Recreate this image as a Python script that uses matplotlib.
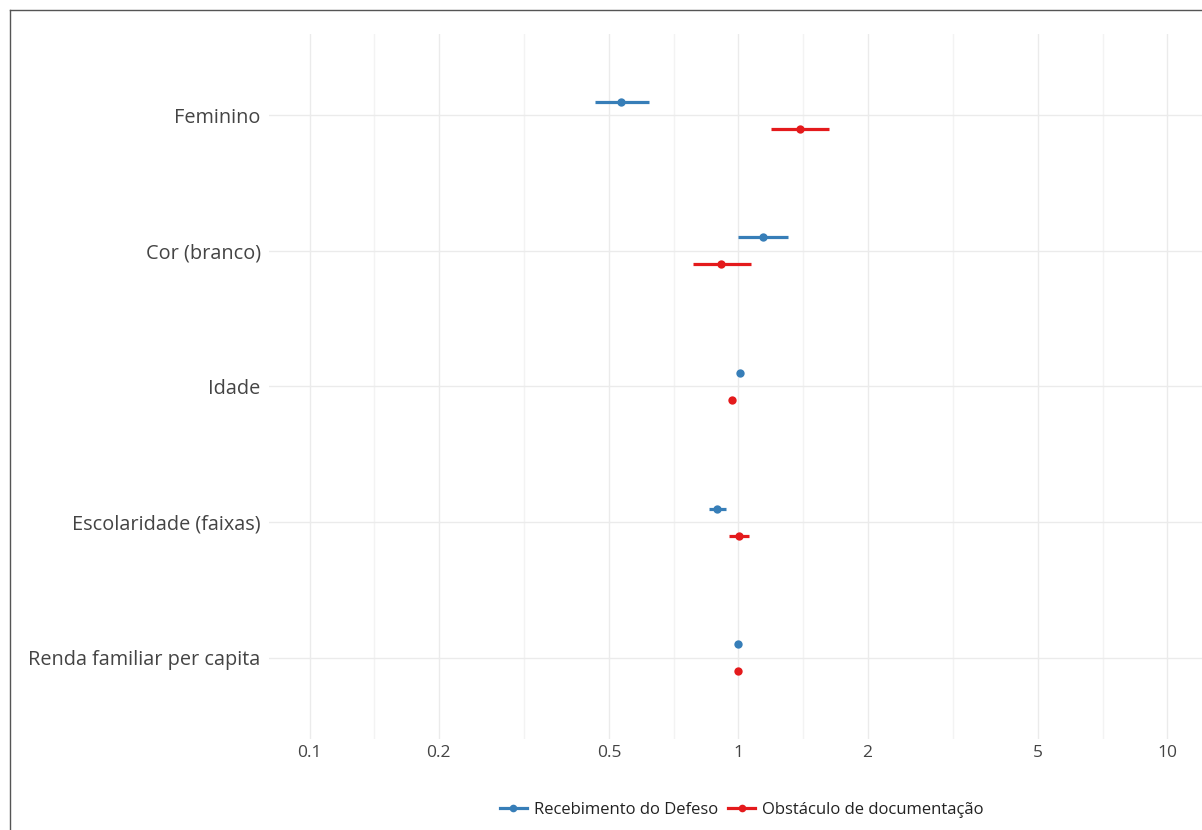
import matplotlib.pyplot as plt
import matplotlib.ticker as mticker
from matplotlib.lines import Line2D
import numpy as np

plt.rcParams['font.family'] = ['Open Sans', 'DejaVu Sans']

variables = ["Feminino", "Cor (branco)", "Idade", "Escolaridade (faixas)",
             "Renda familiar per capita"]

# odds ratios with 95% CI
defeso_or = [0.532, 1.138, 1.011, 0.893, 1.000]
defeso_lo = [0.463, 1.000, 1.005, 0.855, 0.998]
defeso_hi = [0.619, 1.302, 1.017, 0.937, 1.002]

doc_or = [1.389, 0.912, 0.968, 1.005, 1.000]
doc_lo = [1.188, 0.785, 0.962, 0.953, 0.998]
doc_hi = [1.624, 1.067, 0.974, 1.061, 1.002]

blue = "#377EB8"
red = "#E41A1C"

fig = plt.figure(figsize=(12.02, 8.30), dpi=100)
ax = fig.add_axes([269 / 1202, 1 - 739 / 830, 933 / 1202, 705 / 830])

ypos = np.arange(len(variables))[::-1] + 1.0
off = 0.1

for vals, lo, hi, color, d in [(defeso_or, defeso_lo, defeso_hi, blue, off),
                               (doc_or, doc_lo, doc_hi, red, -off)]:
    y = ypos + d
    ax.hlines(y, lo, hi, color=color, lw=2.3, zorder=3)
    ax.plot(vals, y, "o", color=color, ms=6, zorder=4, mec="none")

ax.set_xscale("log")
ax.set_xlim(0.0804, 12.05)
ax.set_ylim(0.4, 5.6)

major = [0.1, 0.2, 0.5, 1, 2, 5, 10]
minor = [0.1414, 0.3162, 0.7071, 1.414, 3.162, 7.071]
ax.xaxis.set_major_locator(mticker.FixedLocator(major))
ax.xaxis.set_major_formatter(mticker.FixedFormatter(["0.1", "0.2", "0.5", "1", "2", "5", "10"]))
ax.xaxis.set_minor_locator(mticker.FixedLocator(minor))
ax.xaxis.set_minor_formatter(mticker.NullFormatter())

ax.set_yticks(ypos)
ax.set_yticklabels(variables)

ax.grid(True, which="major", axis="both", color="#ebebeb", lw=1)
ax.grid(True, which="minor", axis="x", color="#f3f3f3", lw=1)
ax.set_axisbelow(True)
for s in ax.spines.values():
    s.set_visible(False)
ax.tick_params(axis="both", which="both", length=0)
ax.tick_params(axis="x", labelsize=12.5, labelcolor="#444444", pad=4)
ax.tick_params(axis="y", labelsize=14.3, labelcolor="#444444", pad=6)

handles = [Line2D([0], [0], color=blue, lw=2.3, marker="o", ms=5.5, mec="none"),
           Line2D([0], [0], color=red, lw=2.3, marker="o", ms=5.5, mec="none")]
fig.legend(handles, ["Recebimento do Defeso", "Obstáculo de documentação"],
           loc="center", bbox_to_anchor=(742 / 1202, 1 - 810 / 830), ncol=2,
           frameon=False, fontsize=12, handlelength=1.6, handletextpad=0.45,
           columnspacing=0.6, labelcolor="#222222")

# border of the surrounding page (top and left)
fig.add_artist(Line2D([9.5 / 1202, 9.5 / 1202], [0, 1 - 10 / 830],
                      transform=fig.transFigure, color="#555555", lw=1))
fig.add_artist(Line2D([9.5 / 1202, 1], [1 - 10 / 830, 1 - 10 / 830],
                      transform=fig.transFigure, color="#555555", lw=1))

fig.savefig("out.png", dpi=100)
